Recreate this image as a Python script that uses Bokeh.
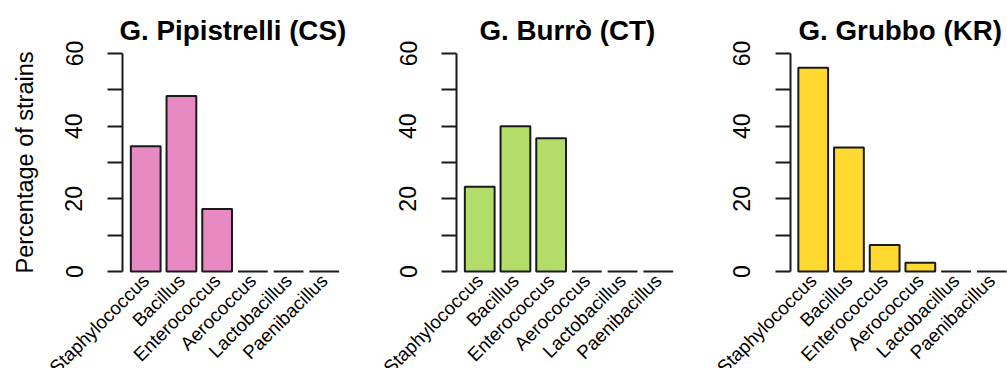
import math
from bokeh.plotting import figure
from bokeh.layouts import row
from bokeh.models import FixedTicker, Range1d, Label
from bokeh.embed import file_html
from bokeh.resources import INLINE

# ---- data ----
genera = ["Staphylococcus", "Bacillus", "Enterococcus", "Aerococcus", "Lactobacillus", "Paenibacillus"]
titles = ["G. Pipistrelli (CS)", "G. Burrò (CT)", "G. Grubbo (KR)"]
cs_values = [34.5, 48.3, 17.2, 0.0, 0.0, 0.0]
ct_values = [23.3, 40.0, 36.7, 0.0, 0.0, 0.0]
kr_values = [56.1, 34.1, 7.3, 2.4, 0.0, 0.0]
bar_colors = ["#E78AC3", "#B3DD69", "#FFD92F"]
y_major = [0, 20, 40, 60]
y_minor = [10, 30, 50]
y_label = "Percentage of strains"

FONT = "Liberation Sans"
PX_X = 225 / 6.3          # px per bar-index unit
PX_Y = 218 / 60.0         # px per percent
H = 368
TOP = 30
ZERO_PX = 271             # page row of the zero line
PLOT_LEFT = -0.65         # left edge of R plot region, in x units


def panel(title, values, color, width, axis_px, title_px, ylab=None):
    xs = list(range(len(genera)))
    x0 = PLOT_LEFT - axis_px / PX_X
    y_end = (ZERO_PX - TOP) / PX_Y
    y_start = -(H - ZERO_PX) / PX_Y
    p = figure(width=width, height=H, output_backend="svg", toolbar_location=None,
               x_range=Range1d(x0, x0 + width / PX_X),
               y_range=Range1d(y_start, y_end),
               min_border_left=0, min_border_right=0,
               min_border_top=TOP, min_border_bottom=0)
    p.outline_line_color = None
    p.xgrid.visible = False
    p.ygrid.visible = False
    p.background_fill_color = "white"
    p.border_fill_color = "white"

    p.vbar(x=xs, top=values, bottom=0, width=1 / 1.2, fill_color=color,
           line_color="#1a1a1a", line_width=2)

    # title
    p.title.text = title
    p.title.align = "left"
    p.title.offset = title_px
    p.title.text_font = FONT
    p.title.text_font_size = "27.75px"
    p.title.text_font_style = "bold"
    p.title.text_color = "black"
    p.title.standoff = -30

    # y axis
    ya = p.yaxis[0]
    ya.fixed_location = PLOT_LEFT
    ya.ticker = FixedTicker(ticks=y_major, minor_ticks=y_minor)
    ya.bounds = (0, 60)
    ya.axis_line_width = 2
    ya.axis_line_color = "#1a1a1a"
    ya.major_tick_line_width = 2
    ya.minor_tick_line_width = 2
    ya.major_tick_line_color = "#1a1a1a"
    ya.minor_tick_line_color = "#1a1a1a"
    ya.major_tick_out = 15
    ya.major_tick_in = 0
    ya.minor_tick_out = 15
    ya.minor_tick_in = 0
    ya.major_label_orientation = "vertical"
    ya.major_label_text_font = FONT
    ya.major_label_text_font_size = "23px"
    ya.major_label_text_color = "black"
    ya.major_label_standoff = 25

    if ylab:
        p.add_layout(Label(x=x0 + 24.5 / PX_X, y=30, text=ylab, angle=math.pi / 2,
                           text_align="center", text_baseline="middle",
                           text_font=FONT, text_font_size="23.5px", text_color="black"))

    # x axis: names only, just under the zero line
    xa = p.xaxis[0]
    xa.fixed_location = 0
    xa.ticker = FixedTicker(ticks=xs, minor_ticks=[])
    xa.major_label_overrides = {i: g for i, g in zip(xs, genera)}
    xa.axis_line_color = None
    xa.major_tick_line_color = None
    xa.minor_tick_line_color = None
    xa.major_tick_out = 0
    xa.major_tick_in = 0
    xa.major_label_orientation = math.pi / 4
    xa.major_label_text_font = FONT
    xa.major_label_text_font_size = "18.8px"
    xa.major_label_text_color = "black"
    xa.major_label_standoff = 6
    return p


p1 = panel(titles[0], cs_values, bar_colors[0], 349, 122, 119, ylab=y_label)
p2 = panel(titles[1], ct_values, bar_colors[1], 334, 107, 130)
p3 = panel(titles[2], kr_values, bar_colors[2], 324, 106.5, 115)

layout = row(p1, p2, p3, spacing=0)
open("out.html", "w").write(file_html(layout, INLINE))
